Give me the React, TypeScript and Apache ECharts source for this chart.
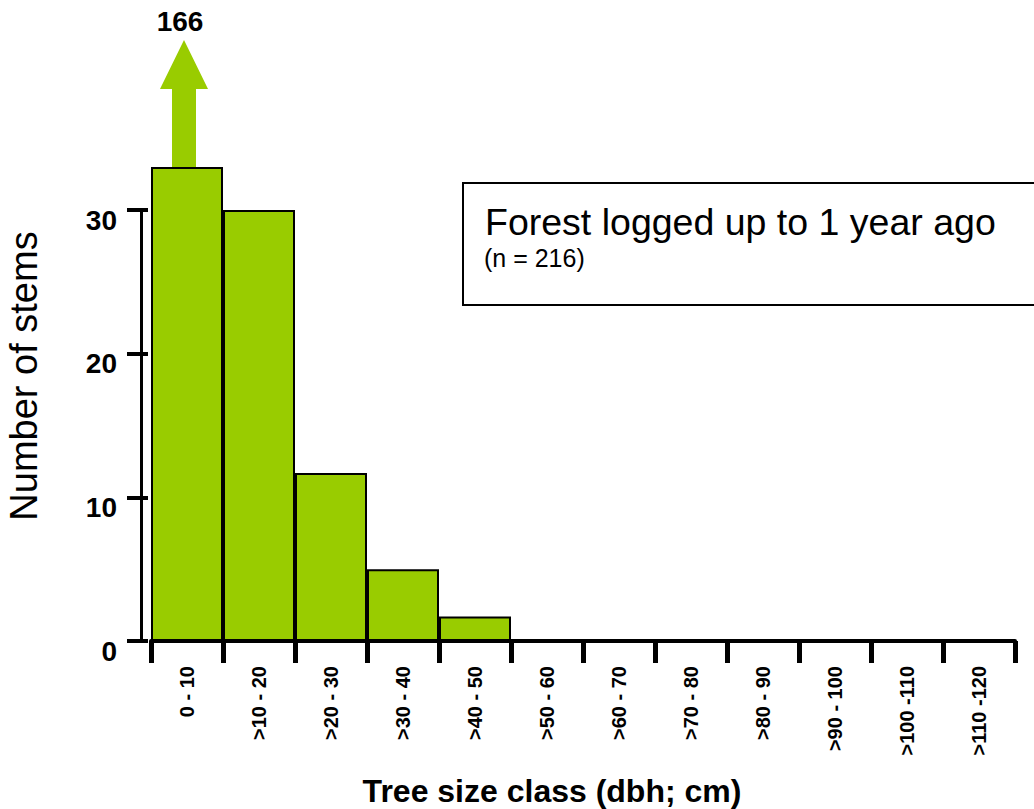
import React, { useEffect, useRef } from "react";
import * as echarts from "echarts";

const categories = ["0 - 10", ">10 - 20", ">20 - 30", ">30 - 40", ">40 - 50", ">50 - 60", ">60 - 70", ">70 - 80", ">80 - 90", ">90 - 100", ">100 -110", ">110 -120"];
const stems = [166, 30, 11.7, 5, 1.7, 0, 0, 0, 0, 0, 0, 0];
const displayCap = 33;
const yTicks = [0, 10, 20, 30];
const titleText = "Forest logged up to 1 year ago";
const subtitleText = "(n = 216)";
const GREEN = "#99CC00";

export default function App() {
  const ref = useRef<HTMLDivElement>(null);
  useEffect(() => {
    const chart = echarts.init(ref.current!, null, { renderer: "svg" });
    const font = "Arial, 'Liberation Sans', Helvetica, sans-serif";
    const yAxisBase = {
      type: "value",
      min: yTicks[0],
      max: yTicks[yTicks.length - 1],
      interval: 10,
      position: "left",
      offset: 10,
      splitLine: { show: false },
    };
    chart.setOption({
      animation: false,
      grid: { left: 151, right: 19, top: 210, bottom: 168, containLabel: false },
      xAxis: {
        type: "category",
        data: categories.map((c) =>
          c === ">30 - 40"
            ? { value: c, textStyle: { fontWeight: 600 } }
            : c
        ),
        axisLine: { lineStyle: { color: "#000", width: 4 } },
        axisTick: { show: true, length: 22, lineStyle: { color: "#000", width: 5 } },
        axisLabel: {
          rotate: 90,
          interval: 0,
          margin: 25,
          fontFamily: font,
          fontWeight: "bold",
          fontSize: 20,
          color: "#000",
        },
      },
      yAxis: [
        {
          ...yAxisBase,
          axisLine: { show: true, lineStyle: { color: "#000", width: 3 } },
          axisTick: { show: true, length: 14, lineStyle: { color: "#000", width: 4 } },
          axisLabel: {
            margin: 24,
            fontFamily: font,
            fontWeight: "bold",
            fontSize: 28,
            color: "#000",
            verticalAlign: "top",
            lineHeight: 20,
          },
        },
        {
          ...yAxisBase,
          axisLine: { show: false },
          axisTick: { show: true, inside: true, length: 7, lineStyle: { color: "#000", width: 4 } },
          axisLabel: { show: false },
        },
      ],
      series: [
        {
          type: "bar",
          yAxisIndex: 0,
          clip: false,
          barCategoryGap: "0%",
          data: stems.map((v) => Math.min(v, displayCap)),
          itemStyle: { color: GREEN, borderColor: "#000", borderWidth: 2 },
        },
      ],
    });

    const base = chart.convertToPixel({ xAxisIndex: 0, yAxisIndex: 0 }, [0, Math.min(stems[0], displayCap)]) as number[];
    const cx = base[0] - 3;
    const yTop = base[1];
    const tipY = yTop - 127;
    const headY = yTop - 78;
    chart.setOption({
      graphic: [
        {
          type: "polygon",
          shape: {
            points: [
              [cx - 12, yTop],
              [cx - 12, headY],
              [cx - 24, headY],
              [cx, tipY],
              [cx + 24, headY],
              [cx + 12, headY],
              [cx + 12, yTop],
            ],
          },
          style: { fill: GREEN },
          z: 10,
        },
        {
          type: "text",
          x: cx - 4,
          y: 21,
          style: {
            text: String(stems[0]),
            font: `bold 28px ${font}`,
            fill: "#000",
            align: "center",
            verticalAlign: "middle",
          },
        },
        {
          type: "rect",
          shape: { x: 463, y: 183, width: 600, height: 122 },
          style: { fill: "#fff", stroke: "#000", lineWidth: 2 },
          z: 5,
        },
        {
          type: "text",
          x: 485,
          y: 222,
          z: 6,
          style: { text: titleText, font: `37.5px ${font}`, fill: "#000", verticalAlign: "middle" },
        },
        {
          type: "text",
          x: 484,
          y: 258,
          z: 6,
          style: { text: subtitleText, font: `25px ${font}`, fill: "#000", verticalAlign: "middle" },
        },
        {
          type: "text",
          x: 24,
          y: 376,
          rotation: Math.PI / 2,
          style: { text: "Number of stems", font: `38px ${font}`, fill: "#000", align: "center", verticalAlign: "middle" },
        },
        {
          type: "text",
          x: 552,
          y: 791,
          style: { text: "Tree size class (dbh; cm)", font: `bold 32px ${font}`, fill: "#000", align: "center", verticalAlign: "middle" },
        },
      ],
    });
    return () => chart.dispose();
  }, []);
  return <div ref={ref} style={{ position: "fixed", left: 0, top: 0, width: 1034, height: 809, background: "#fff" }} />;
}
